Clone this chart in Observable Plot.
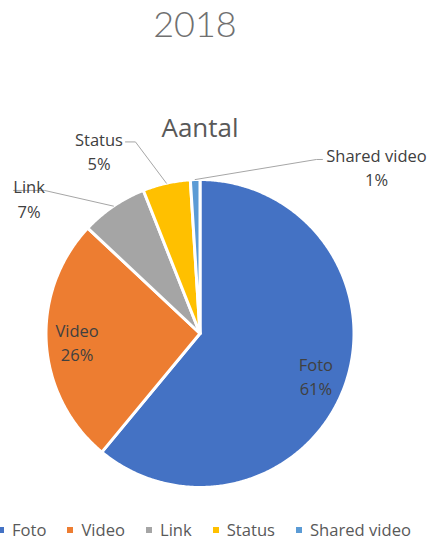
<!DOCTYPE html>
<html><head><meta charset="utf-8">
<script src="https://cdn.jsdelivr.net/npm/d3@7"></script>
<script src="https://cdn.jsdelivr.net/npm/@observablehq/plot@0.6"></script>
<style>
html,body{margin:0;padding:0;background:#fff;width:430px;height:541px;overflow:hidden;position:relative}
#title{position:absolute;left:0;top:5px;width:390px;text-align:center;font-family:Lato,sans-serif;font-weight:300;font-size:36px;line-height:36px;color:#707070}
#chart{position:absolute;left:0;top:60px}
#legend{position:absolute;left:-2px;top:520px;display:flex;font-family:"Open Sans",sans-serif;font-size:16.6px;line-height:20px;color:#595959;white-space:nowrap}
.item{display:flex;align-items:center;margin-right:21px}
.sw{width:6px;height:6px;margin-right:8px}
</style></head><body>
<div id="title"></div>
<div id="chart"></div>
<div id="legend"></div>
<script>
// ---- data ----
const yearTitle = "2018";
const chartTitle = "Aantal";
const categories = ["Foto", "Video", "Link", "Status", "Shared video"];
const percentages = [61, 26, 7, 5, 1];
const colors = ["#4472C4", "#ED7D31", "#A5A5A5", "#FFC000", "#5B9BD5"];

// ---- layout (pie units: radius = 1) ----
const insideLabelRadius = 0.8;
const outsideLabelPos = {"Link": [-1.110, 0.883], "Status": [-0.656, 1.192], "Shared video": [1.146, 1.088]};
const leaderStart = {
  "Link": [[-1.211, 0.929], [-1.010, 0.929]],
  "Status": [[-0.484, 1.244], [-0.419, 1.244]],
  "Shared video": [[0.795, 1.130], [0.756, 1.130]]
};
const titlePos = [0, 1.328];

document.getElementById("title").textContent = yearTitle;

const data = categories.map((c, i) => ({cat: c, value: percentages[i]}));
const arcs = d3.pie().sort(null).value(d => d.value)(data);

const slicePts = [];
const labels = [];
const leaders = [];
arcs.forEach(p => {
  const cat = p.data.cat;
  const span = p.endAngle - p.startAngle;
  const n = Math.max(2, Math.ceil(span / (Math.PI / 360)));
  slicePts.push({cat, u: 0, v: 0});
  for (let k = 0; k <= n; k++) {
    const a = p.startAngle + span * k / n;
    slicePts.push({cat, u: Math.sin(a), v: Math.cos(a)});
  }
  const mid = (p.startAngle + p.endAngle) / 2;
  const text = cat + "\n" + p.data.value + "%";
  if (outsideLabelPos[cat]) {
    const [u, v] = outsideLabelPos[cat];
    labels.push({cat, u, v, text});
    leaderStart[cat].forEach(([lu, lv]) => leaders.push({cat, u: lu, v: lv}));
    leaders.push({cat, u: Math.sin(mid), v: Math.cos(mid)});
  } else {
    labels.push({cat, u: insideLabelRadius * Math.sin(mid), v: insideLabelRadius * Math.cos(mid), text});
  }
});

const cx = 199.5, cy = 273, r = 154;
const chart = Plot.plot({
  width: 430,
  height: 445,
  margin: 0,
  x: {domain: [-1, 1], range: [cx - r, cx + r], axis: null},
  y: {domain: [-1, 1], range: [cy + r, cy - r], axis: null},
  color: {domain: categories, range: colors},
  style: {background: "white", overflow: "visible"},
  marks: [
    Plot.line(slicePts, {x: "u", y: "v", z: "cat", fill: "cat", stroke: "white", strokeWidth: 3, curve: "linear-closed", strokeLinejoin: "round"}),
    Plot.line(leaders, {x: "u", y: "v", z: "cat", stroke: "#A6A6A6", strokeWidth: 1, strokeLinejoin: "miter"}),
    Plot.text(labels, {x: "u", y: "v", text: "text", fill: "#404040", fontSize: 16.5, fontFamily: "Open Sans", lineHeight: 1.48}),
    Plot.text([chartTitle], {x: () => titlePos[0], y: () => titlePos[1], text: d => d, fill: "#595959", fontSize: 26, fontFamily: "Open Sans"})
  ]
});
document.getElementById("chart").appendChild(chart);

const legend = document.getElementById("legend");
categories.forEach((c, i) => {
  const item = document.createElement("div");
  item.className = "item";
  const sw = document.createElement("span");
  sw.className = "sw";
  sw.style.background = colors[i];
  const t = document.createElement("span");
  t.textContent = c;
  item.appendChild(sw);
  item.appendChild(t);
  legend.appendChild(item);
});
</script>
</body></html>
